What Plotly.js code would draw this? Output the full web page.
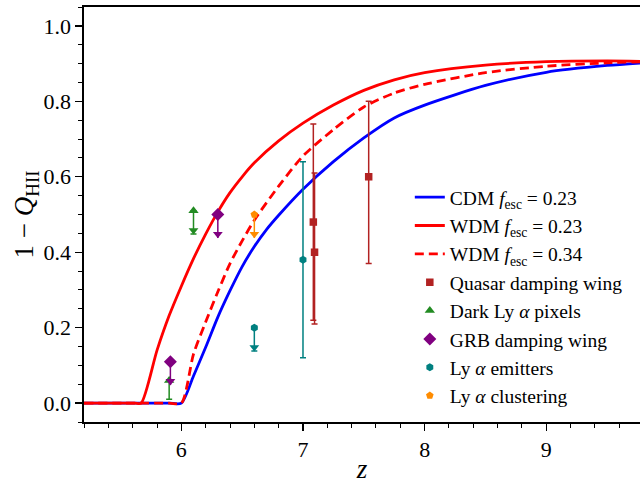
<!DOCTYPE html>
<html>
<head>
<meta charset="utf-8">
<script src="https://cdn.plot.ly/plotly-3.0.1.min.js"></script>
<style>html,body{margin:0;padding:0;background:#fff;}#chart{width:640px;height:484px;}</style>
</head>
<body>
<div id="chart"></div>
<script>
// Model curves: 1 - Q_HII versus redshift z
const zCDM   = [5.2, 5.6, 5.9, 6.0, 6.1, 6.2, 6.3, 6.4, 6.5, 6.6, 6.7, 6.8, 7.0, 7.25, 7.5, 7.75, 8.0, 8.5, 9.0, 9.5, 9.8];
const yCDM   = [0.0, 0.0, 0.0, 0.0, 0.072, 0.148, 0.228, 0.298, 0.362, 0.415, 0.46, 0.498, 0.567, 0.64, 0.703, 0.756, 0.79, 0.842, 0.877, 0.895, 0.902];

const zWDM23 = [5.2, 5.5, 5.62, 5.67, 5.8, 5.9, 6.0, 6.1, 6.2, 6.3, 6.4, 6.5, 6.6, 6.8, 7.0, 7.25, 7.5, 7.75, 8.0, 8.5, 9.0, 9.5, 9.8];
const yWDM23 = [0.0, 0.0, 0.0, 0.0, 0.14, 0.232, 0.31, 0.383, 0.448, 0.507, 0.558, 0.60, 0.637, 0.695, 0.742, 0.79, 0.829, 0.857, 0.876, 0.896, 0.905, 0.907, 0.906];

const zWDM34 = [5.2, 5.6, 5.9, 6.0, 6.1, 6.2, 6.3, 6.4, 6.5, 6.6, 6.8, 7.0, 7.25, 7.5, 7.75, 8.0, 8.5, 9.0, 9.5, 9.8];
const yWDM34 = [0.0, 0.0, 0.0, 0.0, 0.13, 0.215, 0.295, 0.37, 0.43, 0.485, 0.575, 0.655, 0.725, 0.785, 0.822, 0.845, 0.876, 0.893, 0.902, 0.905];

// Observational constraints
const qsoZ     = [7.085, 7.095, 7.54];
const qsoY     = [0.48, 0.40, 0.60];
const qsoErrUp = [0.26, 0.21, 0.20];
const qsoErrDn = [0.26, 0.19, 0.23];

const darkZ     = [5.9, 6.1];
const darkY     = [0.06, 0.51];
const darkErrDn = [0.05, 0];
const darkUpper = [false, true];

const grbZ = [5.91, 6.3];
const grbY = [0.11, 0.50];

const laeZ     = [6.6, 7.0];
const laeY     = [0.20, 0.38];
const laeErrUp = [0, 0.26];
const laeErrDn = [0, 0.26];
const laeUpper = [true, false];

const cluZ = [6.6];
const cluY = [0.50];

const arrowLen = 0.062;

const C = {
  cdm: '#0000ff', wdm: '#ff0000', qso: '#b22222', dark: '#228b22',
  grb: '#800080', lae: '#008080', clu: '#ff8c00'
};

function arrowHeads(zs, ys, flags, color) {
  const x = [], y = [];
  zs.forEach((z, i) => { if (!flags || flags[i]) { x.push(z); y.push(ys[i] - arrowLen + 0.01); } });
  return {x: x, y: y, type: 'scatter', mode: 'markers', showlegend: false, hoverinfo: 'skip',
    marker: {symbol: 'triangle-down', size: 8.5, color: color}, cliponaxis: false};
}

const curveLine = (color, dash) => ({color: color, width: 2.8, dash: dash || 'solid', shape: 'spline', smoothing: 0.7});

const traces = [
  {x: zCDM, y: yCDM, type: 'scatter', mode: 'lines', name: 'CDM <i>f</i><sub>esc</sub> = 0.23',
    legendgroup: 'a', line: curveLine(C.cdm)},
  {x: zWDM23, y: yWDM23, type: 'scatter', mode: 'lines', name: 'WDM <i>f</i><sub>esc</sub> = 0.23',
    legendgroup: 'b', line: curveLine(C.wdm)},
  {x: zWDM34, y: yWDM34, type: 'scatter', mode: 'lines', name: 'WDM <i>f</i><sub>esc</sub> = 0.34',
    legendgroup: 'c', line: curveLine(C.wdm, '9px,5px')},
  {x: qsoZ, y: qsoY, type: 'scatter', mode: 'markers', name: 'Quasar damping wing', legendgroup: 'd',
    marker: {symbol: 'square', size: 7.5, color: C.qso},
    error_y: {type: 'data', symmetric: false, array: qsoErrUp, arrayminus: qsoErrDn,
      color: C.qso, thickness: 1.5, width: 3}},
  {x: darkZ, y: darkY, type: 'scatter', mode: 'markers', name: 'Dark Ly <i>α</i> pixels', legendgroup: 'e',
    marker: {symbol: 'triangle-up', size: 9, color: C.dark},
    error_y: {type: 'data', symmetric: false,
      array: darkZ.map(() => 0),
      arrayminus: darkY.map((v, i) => darkUpper[i] ? arrowLen : darkErrDn[i]),
      color: C.dark, thickness: 1.5, width: 3}},
  {x: grbZ, y: grbY, type: 'scatter', mode: 'markers', name: 'GRB damping wing', legendgroup: 'f',
    marker: {symbol: 'diamond', size: 10, color: C.grb},
    error_y: {type: 'data', symmetric: false, array: grbZ.map(() => 0), arrayminus: grbZ.map(() => arrowLen),
      color: C.grb, thickness: 1.5, width: 0}},
  {x: laeZ, y: laeY, type: 'scatter', mode: 'markers', name: 'Ly <i>α</i> emitters', legendgroup: 'g',
    marker: {symbol: 'hexagon', size: 8, color: C.lae},
    error_y: {type: 'data', symmetric: false,
      array: laeErrUp, arrayminus: laeY.map((v, i) => laeUpper[i] ? arrowLen : laeErrDn[i]),
      color: C.lae, thickness: 1.5, width: 3}},
  {x: cluZ, y: cluY, type: 'scatter', mode: 'markers', name: 'Ly <i>α</i> clustering', legendgroup: 'h',
    marker: {symbol: 'pentagon', size: 8, color: C.clu},
    error_y: {type: 'data', symmetric: false, array: [0], arrayminus: [arrowLen],
      color: C.clu, thickness: 1.5, width: 0}},
  arrowHeads(darkZ, darkY, darkUpper, C.dark),
  arrowHeads(grbZ, grbY, null, C.grb),
  arrowHeads(laeZ, laeY, laeUpper, C.lae),
  arrowHeads(cluZ, cluY, null, C.clu)
];

const serif = 'Liberation Serif, DejaVu Serif, serif';

const layout = {
  width: 640, height: 484,
  margin: {l: 84, r: 0, t: 7, b: 62},
  paper_bgcolor: '#ffffff', plot_bgcolor: '#ffffff',
  font: {family: serif, color: '#000000', size: 22},
  showlegend: true,
  legend: {
    x: 0.586, y: 0.588, xanchor: 'left', yanchor: 'top',
    bgcolor: 'rgba(0,0,0,0)', borderwidth: 0,
    font: {family: serif, size: 19.5, color: '#000'},
    tracegroupgap: 0
  },
  xaxis: {
    range: [5.2, 9.77], dtick: 1, tick0: 0,
    ticks: 'outside', ticklen: 7, tickwidth: 1.3, tickcolor: '#000',
    minor: {dtick: 0.2, tick0: 0, ticks: 'outside', ticklen: 4, tickwidth: 1, tickcolor: '#000'},
    showline: true, linewidth: 1.6, linecolor: '#000', mirror: true,
    showgrid: false, zeroline: false,
    tickfont: {family: serif, size: 22},
    title: {text: '<i>z</i>', font: {family: serif, size: 27}, standoff: 10}
  },
  yaxis: {
    range: [-0.05, 1.05], dtick: 0.2, tick0: 0, tickformat: '.1f',
    ticks: 'outside', ticklen: 7, tickwidth: 1.3, tickcolor: '#000',
    minor: {dtick: 0.05, tick0: 0, ticks: 'outside', ticklen: 4, tickwidth: 1, tickcolor: '#000'},
    showline: true, linewidth: 1.6, linecolor: '#000',
    showgrid: false, zeroline: false,
    tickfont: {family: serif, size: 22},
    title: {text: '1 − <i>Q</i><sub>HII</sub>', font: {family: serif, size: 27}, standoff: 2}
  }
};

Plotly.newPlot('chart', traces, layout, {displayModeBar: false, staticPlot: true});
</script>
</body>
</html>
